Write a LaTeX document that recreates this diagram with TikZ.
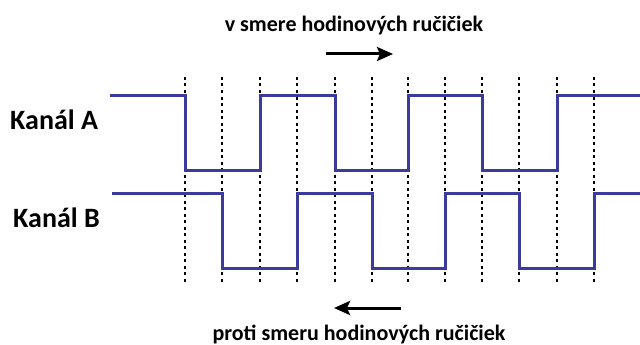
\documentclass[tikz,border=0pt]{standalone}
\usepackage{fontspec}
\setmainfont{Carlito}
\usetikzlibrary{arrows.meta}
\definecolor{wave}{HTML}{3B3B9E}
\tikzset{
  wavestyle/.style={draw=wave, line width=3pt, line join=miter},
  gridline/.style={draw=black, line width=1.2pt, dash pattern=on 3pt off 3.5pt},
  dirarrow/.style={draw=black, line width=3pt, -{Stealth[length=16pt,width=14pt,inset=3pt]}},
  chanlabel/.style={font=\bfseries\fontsize{28}{32}\selectfont, anchor=base west, inner sep=0pt},
  dirlabel/.style={font=\bfseries\fontsize{22}{26}\selectfont, anchor=base, inner sep=0pt}
}
\begin{document}
\begin{tikzpicture}[x=1pt,y=-1pt]
\useasboundingbox (0,0) rectangle (640,345);
% dashed reference lines
\foreach \xx in {185,222,260,297,335,372,408,445,482,519,557,594}{
  \draw[gridline] (\xx,77) -- (\xx,285);
}
% channel A
\draw[wavestyle] (110,95) -- (185,95) -- (185,170) -- (260,170) -- (260,95) -- (335,95) -- (335,170) -- (408,170) -- (408,95) -- (482,95) -- (482,170) -- (557,170) -- (557,95) -- (640,95);
% channel B
\draw[wavestyle] (112,193) -- (222,193) -- (222,268) -- (297,268) -- (297,193) -- (372,193) -- (372,268) -- (445,268) -- (445,193) -- (519,193) -- (519,268) -- (594,268) -- (594,193) -- (640,193);
% labels
\node[chanlabel] (la) at (10,129) {Kanál A};
\node[chanlabel] (lb) at (13,227) {Kanál B};
\node[dirlabel] (top) at (354,32) {v smere hodinových ručičiek};
\node[dirlabel] (bot) at (359,340) {proti smeru hodinových ručičiek};
% arrows
\coordinate (a1) at (326,54);
\coordinate (a2) at (393,54);
\coordinate (b1) at (401,308);
\coordinate (b2) at (334,308);
\draw[dirarrow] (a1) -- (a2);
\draw[dirarrow] (b1) -- (b2);
\end{tikzpicture}
\end{document}
